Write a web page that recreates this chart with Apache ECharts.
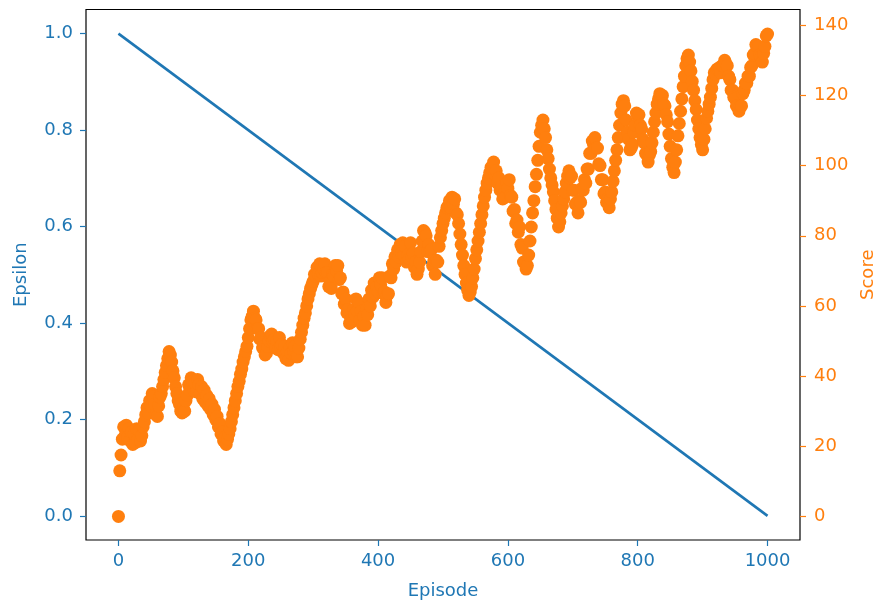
<!DOCTYPE html>
<html><head><meta charset="utf-8">
<script src="https://cdn.jsdelivr.net/npm/echarts@6/dist/echarts.min.js"></script>
<style>html,body{margin:0;padding:0;background:#fff}#c{width:876px;height:606px}</style>
</head><body><div id="c"></div>
<script>
// Scores, one value every 2 episodes from episode 0 to 1000
const firstEpisode = 0;
const episodeStep = 2;
const scores = [
0,13,17.5,22,25.5,23,26,22.5,25,21.5,24,20.5,23.5,21,25,22,24.5,21.5,23,25.5,27,
29,31,29.5,33,31.5,35,34,32,29,28.5,31.5,34,35,37,39,41,43,45,47,46,44,41.5,39.5,37,35,33,32,30,29.5,31,
30,33,34.5,37.5,36,39.5,38.5,36,38,35.5,39,37.5,35,37,33.5,36,32.5,34.5,31.5,33.5,30.5,32,29,30.5,27.5,28.5,25.5,26.5,23.5,24,21.5,22.5,20.5,
22,23.5,25,27,29,31,33,35,37,38.5,40.5,42,44,45.5,47,48.5,51,53.5,56,57,58.5,56.5,56,53.5,53.5,50.5,51,48,48.5,46,46.5,48.5,
50,51.5,52,50,50.5,48,50,47.5,51,48.5,49,46.5,48.5,45,47,44.5,48,46.5,49.5,47,48.5,45.5,45.5,48,50.5,52.5,54.5,56.5,58,60,62,63.5,65,66,67,
69,68.5,71,69,72,68.5,69.5,70.5,72,69.5,69.5,65.5,67,65,69,68.5,71.5,70,71.5,67.5,68,63.5,64,60.5,62,58,59,55,56,55.5,
59,57.5,62,58.5,61,56,58.5,54.5,57,54.5,59,57.5,62,60,64.5,62.5,66.5,63.5,65.5,64,68,66,68,63.5,64,61,63,63.5,68.5,68,
72,70.5,74,72.5,76,74,77.5,75,78,74.5,77,72.5,74.5,73.5,78,74,75,71,72.5,69,70.5,72.5,75.5,78.5,81.5,81,80,75.5,77.5,75.5,
76,71.5,73,69,73,72.5,77,79.5,81.5,83.5,85,86.5,88,88.5,90,88,91,89,90.5,86.5,86,83.5,80.5,77.5,74.5,71.5,69,66.5,64.5,63,
64,65.5,68,70.5,73.5,76,78.5,81,83.5,86,88.5,91,93,95,96.5,98,99.5,99,101,97.5,98.5,95,96.5,93,94,90.5,92,91,95,93.5,
96,91.5,91,87,87.5,83.5,84.5,81,82.5,77.5,76.5,72.5,72.5,70.5,71.5,74.5,78.5,82.5,86.5,90,94,97.5,101.5,105.5,109.5,111.5,113,110.5,108,104.5,
102,99,96.5,94.5,92.5,90,87.5,85,82.5,84,86.5,88.5,90.5,92.5,95,97,98.5,96.5,97,93,93,89,89.5,86.5,90,89.5,93.5,93,96,95,
99,99,103.5,103.5,107,106,108,105,105,100.5,100,96,96,92,92.5,89.5,90.5,88,90.5,92.5,95.5,98.5,101.5,104.5,108,111.5,115,117.5,118.5,117,
113,109.5,107.5,104.5,105,106,109.5,111.5,115,114,114.5,111.5,110.5,107.5,106.5,103.5,103,101,103,104,106.5,109.5,112.5,115,117.5,119,120.5,120,120,117.5,
117,114.5,112.5,109,105.5,102,99.5,98,101,104.5,108.5,112,115.5,119,122.5,125.5,128.5,130.5,131.5,129.5,127,124,121.5,118.5,116,113,110.5,108,106,104.5,
107.5,110.5,113.5,115.5,117.5,119.5,122,124.5,126.5,126,127.5,127.5,128,126.5,128.5,128.5,130,129,128.5,125.5,124.5,121.5,121.5,119.5,119,117,117,115.5,117,117,
120.5,121.5,123.5,123.5,125.5,125.5,128,128.5,131.5,132,134.5,134,134,131.5,131,129.5,132,134,137,137.5
];
const episodes = scores.map((_, i) => firstEpisode + i * episodeStep);
const epsilonEpisodes = [0, 1000];
const epsilonValues = [1.0, 0.0];
const xTicks = [0, 200, 400, 600, 800, 1000];
const epsilonTicks = [0, 0.2, 0.4, 0.6, 0.8, 1.0];
const scoreTicks = [0, 20, 40, 60, 80, 100, 120, 140];

const BLUE = '#1f77b4', ORANGE = '#ff7f0e', FONT = 'DejaVu Sans';
const chart = echarts.init(document.getElementById('c'), null, {renderer: 'canvas'});
chart.setOption({
  animation: false,
  backgroundColor: '#fff',
  grid: {left: 86, right: 76, top: 9.5, bottom: 66, show: true, borderColor: '#000', borderWidth: 1.2,
         backgroundColor: 'transparent', containLabel: false, outerBoundsMode: 'none'},
  xAxis: {
    type: 'value', min: -50, max: 1050,
    axisLine: {show: false, onZero: false},
    axisTick: {show: true, inside: false, customValues: xTicks, length: 6, lineStyle: {color: BLUE, width: 1.2}},
    axisLabel: {customValues: xTicks, color: BLUE, fontSize: 18, fontFamily: FONT, margin: 12, formatter: v => String(v)},
    splitLine: {show: false},
    name: 'Episode', nameLocation: 'middle', nameGap: 42,
    nameTextStyle: {color: BLUE, fontSize: 18, fontFamily: FONT}
  },
  yAxis: [{
    type: 'value', position: 'left', min: -0.05, max: 1.05,
    axisLine: {show: false, onZero: false},
    axisTick: {show: true, inside: false, customValues: epsilonTicks, length: 6, lineStyle: {color: BLUE, width: 1.2}},
    axisLabel: {customValues: epsilonTicks, color: BLUE, fontSize: 18, fontFamily: FONT, margin: 13, formatter: v => v.toFixed(1)},
    splitLine: {show: false},
    name: 'Epsilon', nameLocation: 'middle', nameGap: 56, nameRotate: 90,
    nameTextStyle: {color: BLUE, fontSize: 18, fontFamily: FONT}
  }, {
    type: 'value', position: 'right', min: -6.73, max: 144.5,
    axisLine: {show: false, onZero: false},
    axisTick: {show: true, inside: false, customValues: scoreTicks, length: 6, lineStyle: {color: ORANGE, width: 1.2}},
    axisLabel: {customValues: scoreTicks, color: ORANGE, fontSize: 18, fontFamily: FONT, margin: 14, formatter: v => String(v)},
    splitLine: {show: false},
    name: 'Score', nameLocation: 'middle', nameGap: 57, nameRotate: 90,
    nameTextStyle: {color: ORANGE, fontSize: 18, fontFamily: FONT}
  }],
  series: [{
    type: 'line', yAxisIndex: 0, showSymbol: false, symbol: 'none', z: 2,
    lineStyle: {color: BLUE, width: 2.6},
    data: epsilonEpisodes.map((e, i) => [e, epsilonValues[i]])
  }, {
    type: 'scatter', yAxisIndex: 1, symbol: 'circle', symbolSize: 13, z: 3,
    itemStyle: {color: ORANGE, opacity: 1},
    data: episodes.map((e, i) => [e, scores[i]])
  }]
});
</script>
</body></html>
